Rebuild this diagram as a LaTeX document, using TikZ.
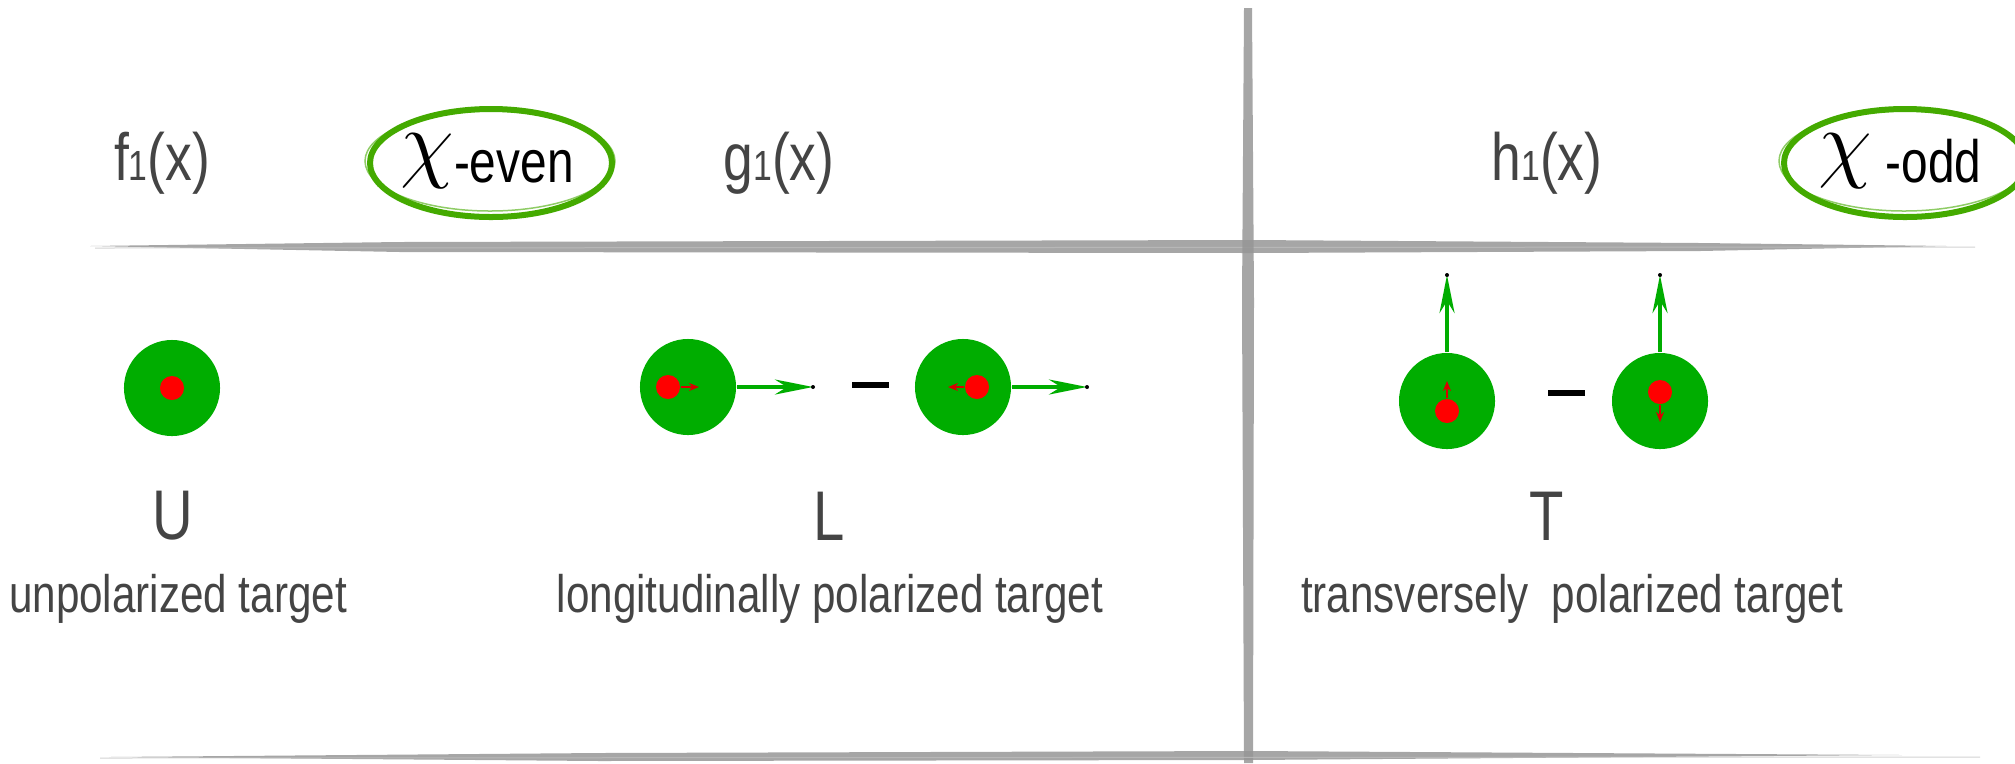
\documentclass[tikz,border=0pt]{standalone}
\usepackage{fontspec}
\setmainfont{Liberation Sans}[FakeStretch=0.8]
\usepackage{amsmath}
\usetikzlibrary{arrows.meta}

\definecolor{nucleon}{RGB}{0,173,0}
\definecolor{quark}{RGB}{255,0,0}
\definecolor{brush}{RGB}{68,170,0}
\definecolor{pencil}{RGB}{150,150,150}
\definecolor{ink}{RGB}{68,68,68}

\begin{document}
\begin{tikzpicture}[x=0.01cm, y=-0.01cm,
  target/.style={circle, fill=nucleon, minimum size=0.96cm, inner sep=0pt},
  quarkdot/.style={circle, fill=quark, minimum size=0.24cm, inner sep=0pt},
  spin/.style={nucleon, line width=0.04cm, -{Stealth[length=0.38cm, width=0.15cm, inset=0.12cm]}},
  qspin/.style={quark!85!black, line width=0.02cm, -{Stealth[length=0.1cm, width=0.08cm]}},
  minus/.style={fill=black, minimum width=0.37cm, minimum height=0.06cm, inner sep=0pt},
  pdf/.style={text=ink, font=\fontsize{19}{19}\selectfont, anchor=base},
  letter/.style={text=ink, font=\fontsize{20}{20}\selectfont},
  caption/.style={text=ink, font=\fontsize{15}{15}\selectfont, anchor=base},
  parity/.style={font=\fontsize{17}{17}\selectfont, anchor=base},
  ring/.style={draw=brush, line width=0.06cm},
  stroke/.style={fill=pencil, fill opacity=0.85}
]
\useasboundingbox (0,0) rectangle (2015,763);

% Pencil grid
\fill[stroke] (90,246) -- (400,242) -- (1250,240) -- (1700,243) -- (1947,246)
  -- (1700,251) -- (1250,253) -- (400,252) -- cycle;
\draw[pencil!60, line width=0.01cm, opacity=0.7] (95,248) -- (1975,247);
\fill[stroke] (1244,8) -- (1252,8) -- (1254,300) -- (1253,763) -- (1244,763)
  -- (1242,300) -- cycle;
\fill[stroke] (109,757) -- (600,753) -- (1250,751) -- (1902,755)
  -- (1250,760) -- (600,761) -- cycle;
\draw[pencil!60, line width=0.01cm, opacity=0.7] (100,758) -- (1980,757);

% Distribution functions
\node[pdf] (f1) at (162,180) {f{\fontsize{12}{12}\selectfont 1}(x)};
\node[pdf] (g1) at (779,180) {g{\fontsize{12}{12}\selectfont 1}(x)};
\node[pdf] (h1) at (1547,180) {h{\fontsize{12}{12}\selectfont 1}(x)};

% Chirality
\draw[ring] (491,163) ellipse [x radius=121, y radius=54];
\draw[brush, line width=0.015cm, opacity=0.6] (490,161) ellipse [x radius=125, y radius=50];
\node[parity] (even) at (487,182)
  {\raisebox{3pt}{\fontsize{25}{25}\selectfont$\chi$}-even};
\draw[ring] (1905,163) ellipse [x radius=121, y radius=54];
\draw[brush, line width=0.015cm, opacity=0.6] (1904,161) ellipse [x radius=125, y radius=50];
\node[parity] (odd) at (1900,182)
  {\raisebox{3pt}{\fontsize{25}{25}\selectfont$\chi$} -odd};

% Unpolarized
\node[target] (U) at (172,388) {};
\node[quarkdot] (qU) at (172,388) {};

% Longitudinal
\node[target] (L1) at (688,387) {};
\node[quarkdot] (qL1) at (668,387) {};
\coordinate (qL1tip) at (699,387);
\coordinate (L1tip) at (813,387);
\draw[qspin] (qL1.east) -- (qL1tip);
\draw[spin] (L1.east) -- (L1tip);
\fill (L1tip) circle[radius=2];

\node[minus] (mL) at (870,385) {};

\node[target] (L2) at (963,387) {};
\node[quarkdot] (qL2) at (977,387) {};
\coordinate (qL2tip) at (948,387);
\coordinate (L2tip) at (1087,387);
\draw[qspin] (qL2.west) -- (qL2tip);
\draw[spin] (L2.east) -- (L2tip);
\fill (L2tip) circle[radius=2];

% Transverse
\node[target] (T1) at (1447,401) {};
\node[quarkdot] (qT1) at (1447,411) {};
\coordinate (qT1tip) at (1447,381);
\coordinate (T1tip) at (1447,275);
\draw[qspin] (qT1.north) -- (qT1tip);
\draw[spin] (T1.north) -- (T1tip);
\fill (T1tip) circle[radius=2];

\node[minus] (mT) at (1566,393) {};

\node[target] (T2) at (1660,401) {};
\node[quarkdot] (qT2) at (1660,392) {};
\coordinate (qT2tip) at (1660,422);
\coordinate (T2tip) at (1660,275);
\draw[qspin] (qT2.south) -- (qT2tip);
\draw[spin] (T2.north) -- (T2tip);
\fill (T2tip) circle[radius=2];

% Labels
\node[letter] (labU) at (173,516) {U};
\node[letter] (labL) at (829,516) {L};
\node[letter] (labT) at (1547,516) {T};
\node[caption] (capU) at (178,612) {unpolarized target};
\node[caption] (capL) at (830,612) {longitudinally polarized target};
\node[caption] (capT) at (1572,612) {transversely\ \ polarized target};

\end{tikzpicture}
\end{document}
